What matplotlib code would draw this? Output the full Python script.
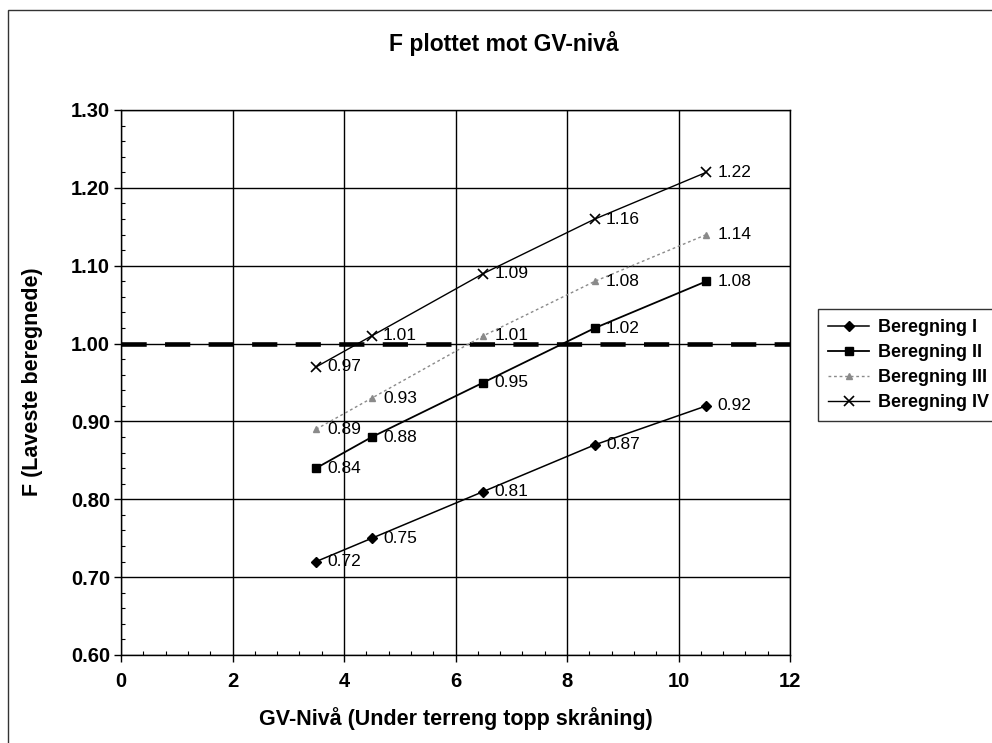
import matplotlib
matplotlib.use("Agg")
import matplotlib.pyplot as plt
from matplotlib.patches import Rectangle
from matplotlib.ticker import MultipleLocator, FormatStrFormatter

plt.rcParams['font.family'] = ['Liberation Sans', 'DejaVu Sans']

# Data
gv_level = [3.5, 4.5, 6.5, 8.5, 10.5]
series_names = ["Beregning I", "Beregning II", "Beregning III", "Beregning IV"]
f_beregning_1 = [0.72, 0.75, 0.81, 0.87, 0.92]
f_beregning_2 = [0.84, 0.88, 0.95, 1.02, 1.08]
f_beregning_3 = [0.89, 0.93, 1.01, 1.08, 1.14]
f_beregning_4 = [0.97, 1.01, 1.09, 1.16, 1.22]
threshold_x = [0, 12]
threshold_y = [1.00, 1.00]

title = "F plottet mot GV-nivå"
xlabel = "GV-Nivå (Under terreng topp skråning)"
ylabel = "F (Laveste beregnede)"

W, H = 992, 743
fig = plt.figure(figsize=(W / 100, H / 100), dpi=100)

# outer chart border (extends beyond the right/bottom edges)
fig.patches.append(Rectangle((8 / W, -0.05), 1.2, 1 - 10 / H + 0.05,
                             transform=fig.transFigure, fill=False,
                             edgecolor='#333333', linewidth=1.0))

left, right, top, bottom = 121, 790, 110, 655
ax = fig.add_axes([left / W, 1 - bottom / H, (right - left) / W, (bottom - top) / H])

styles = [
    dict(color='black', marker='D', markersize=5, linewidth=1.1, linestyle='-'),
    dict(color='black', marker='s', markersize=6, linewidth=1.3, linestyle='-'),
    dict(color='#8a8a8a', marker='^', markersize=5, linewidth=1.0, linestyle=(0, (2, 2))),
    dict(color='black', marker='x', markersize=7, linewidth=1.0, linestyle='-', markeredgewidth=1.2),
]
all_series = [f_beregning_1, f_beregning_2, f_beregning_3, f_beregning_4]

ax.plot(threshold_x, threshold_y, color='black', linewidth=3.3,
        linestyle=(0, (5.5, 4.0)), zorder=3, solid_capstyle='butt', dash_capstyle='butt')

handles = []
for name, ys, st in zip(series_names, all_series, styles):
    h, = ax.plot(gv_level, ys, label=name, zorder=4, **st)
    handles.append(h)
    for x, y in zip(gv_level, ys):
        ax.annotate(f"{y:.2f}", (x, y), xytext=(8, 0), textcoords='offset points',
                    va='center', ha='left', fontsize=12.5, color='black', zorder=5)

ax.set_xlim(0, 12)
ax.set_ylim(0.60, 1.30)
ax.xaxis.set_major_locator(MultipleLocator(2))
ax.xaxis.set_minor_locator(MultipleLocator(0.4))
ax.yaxis.set_major_locator(MultipleLocator(0.1))
ax.yaxis.set_minor_locator(MultipleLocator(0.02))
ax.yaxis.set_major_formatter(FormatStrFormatter('%.2f'))
ax.grid(True, which='major', color='black', linewidth=1.0)
ax.set_axisbelow(True)
ax.tick_params(which='major', direction='out', length=5, width=1.0,
               labelsize=14.5)
ax.tick_params(axis='y', which='major', pad=3)
ax.tick_params(axis='x', which='major', pad=7)
ax.tick_params(which='minor', direction='in', length=3, width=0.8)
for lbl in ax.get_xticklabels() + ax.get_yticklabels():
    lbl.set_fontweight('bold')
for sp in ax.spines.values():
    sp.set_linewidth(1.0)
    sp.set_color('black')

fig.text(504 / W, 1 - 43 / H, title, ha='center', va='center',
         fontsize=16.5, fontweight='bold')
fig.text(456 / W, 1 - 719 / H, xlabel, ha='center', va='center',
         fontsize=15.5, fontweight='bold')
fig.text(33 / W, 1 - 382 / H, ylabel, ha='center', va='center', rotation=90,
         fontsize=15.5, fontweight='bold')

leg = fig.legend(handles=handles, loc='upper left',
                 bbox_to_anchor=(818 / W, 1 - 309 / H), frameon=True,
                 fancybox=False, edgecolor='black', handlelength=2.3,
                 handletextpad=0.45, borderpad=0.55, labelspacing=0.45,
                 prop={'weight': 'bold', 'size': 13}, borderaxespad=0)
leg.get_frame().set_linewidth(1.0)

fig.savefig("out.png", dpi=100)
